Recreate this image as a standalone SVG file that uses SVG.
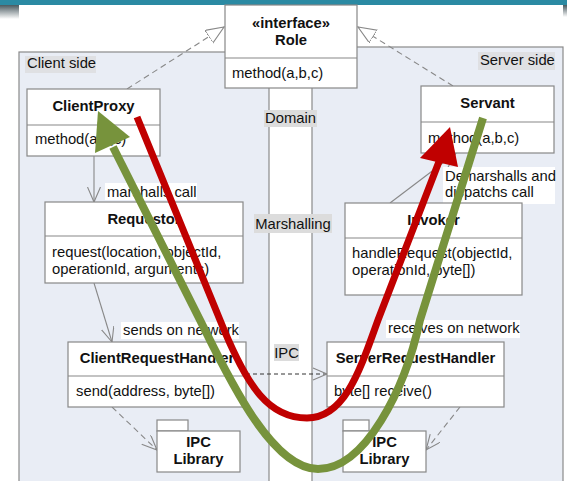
<svg xmlns="http://www.w3.org/2000/svg" width="567" height="481" viewBox="0 0 567 481">
  <style>
    text { font-family: "Liberation Sans", Arial, sans-serif; font-size: 14.8px; fill: #111; }
    .b { font-weight: bold; }
    .m { text-anchor: middle; }
    .box { fill: #fff; stroke: #888; stroke-width: 1.2; }
    .sep { stroke: #888; stroke-width: 1.2; }
    .panel { fill: #e9edf5; stroke: #8a8a8a; stroke-width: 1.2; }
    .tag { fill: #dcdcdc; }
    .lbl { fill: #fff; }
    .solid { fill: none; stroke: #888; stroke-width: 1.1; }
    .dash { fill: none; stroke: #888; stroke-width: 1.1; stroke-dasharray: 6 4; }
    .dashdark { fill: none; stroke: #333; stroke-width: 1; stroke-dasharray: 4 3; }
  </style>
  <defs>
    <marker id="hollow" markerUnits="userSpaceOnUse" markerWidth="20" markerHeight="16" refX="18" refY="7.5" orient="auto">
      <path d="M0,0 L18,7.5 L0,15 Z" fill="#fff" stroke="#888" stroke-width="1.1"/>
    </marker>
    <marker id="open" markerUnits="userSpaceOnUse" markerWidth="18" markerHeight="14" refX="15" refY="6.5" orient="auto">
      <path d="M0,0 L15,6.5 L0,13" fill="none" stroke="#888" stroke-width="1.1"/>
    </marker>
    <linearGradient id="shade" x1="0" y1="0" x2="0" y2="1">
      <stop offset="0" stop-color="#4a5a60"/>
      <stop offset="1" stop-color="#ffffff"/>
    </linearGradient>
  </defs>

  <!-- page background and header strip -->
  <rect x="0" y="0" width="567" height="481" fill="#fff"/>
  <rect x="0" y="5" width="19" height="14" fill="url(#shade)"/>
  <rect x="563" y="5" width="4" height="12" fill="url(#shade)"/>
  <rect x="0" y="0" width="567" height="5" fill="#2b8aa3"/>

  <!-- side panels -->
  <g id="client-side">
    <rect class="panel" x="19" y="52" width="250" height="440"/>
    <rect x="25" y="56" width="71" height="17" fill="#dfe0e3"/>
    <text x="27" y="68">Client side</text>
  </g>
  <g id="server-side">
    <rect class="panel" x="312" y="47" width="251" height="440"/>
    <rect x="478" y="52" width="77" height="18" fill="#dfe0e3"/>
    <text x="480" y="65">Server side</text>
  </g>

  <!-- layer tags in the middle column -->
  <g id="layers">
    <rect class="tag" x="264" y="110" width="53" height="17"/>
    <text x="290.5" y="123" class="m">Domain</text>
    <rect class="tag" x="254" y="214" width="78" height="19"/>
    <text x="293" y="229" class="m">Marshalling</text>
    <rect class="tag" x="274" y="344" width="25" height="17"/>
    <text x="286.5" y="358" class="m">IPC</text>
  </g>

  <!-- connectors -->
  <g id="connectors">
    <path class="dash" d="M127,89 L224,27" marker-end="url(#hollow)"/>
    <path class="dash" d="M453,86 L358,27" marker-end="url(#hollow)"/>
    <path class="solid" d="M94,156 L94,202" marker-end="url(#open)"/>
    <path class="solid" d="M94,283 L112,342" marker-end="url(#open)"/>
    <path class="solid" d="M390,203 L456,153" marker-end="url(#open)"/>
    <path class="dashdark" d="M246,374 L327,374"/>
    <path d="M313,368 L327,374 L313,380" fill="none" stroke="#888" stroke-width="1.1"/>
    <path class="dash" d="M112,407 L157,450" marker-end="url(#open)"/>
    <path class="dash" d="M460,407 L426,450" marker-end="url(#open)"/>

    <rect class="lbl" x="105" y="183" width="92" height="17"/>
    <text x="107" y="197">marshalls call</text>
    <rect class="lbl" x="121" y="322" width="118" height="17"/>
    <text x="123" y="335">sends on network</text>
    <rect class="lbl" x="386" y="320" width="134" height="18"/>
    <text x="388" y="333">receives on network</text>
    <rect class="lbl" x="443" y="167" width="112" height="37"/>
    <text x="445" y="181">Demarshalls and</text>
    <text x="445" y="197">dispatchs call</text>
  </g>

  <!-- nodes -->
  <g id="role">
    <rect class="box" x="225" y="5" width="132" height="83"/>
    <line class="sep" x1="225" y1="58" x2="357" y2="58"/>
    <text x="291" y="28" class="m b">«interface»</text>
    <text x="291" y="45" class="m b">Role</text>
    <text x="232" y="78">method(a,b,c)</text>
  </g>
  <g id="client-proxy">
    <rect class="box" x="27" y="89" width="133" height="67"/>
    <line class="sep" x1="27" y1="125" x2="160" y2="125"/>
    <text x="93.5" y="111" class="m b">ClientProxy</text>
    <text x="35" y="144">method(a,b,c)</text>
  </g>
  <g id="servant">
    <rect class="box" x="421" y="86" width="133" height="67"/>
    <line class="sep" x1="421" y1="122" x2="554" y2="122"/>
    <text x="487.5" y="108" class="m b">Servant</text>
    <text x="428" y="143">method(a,b,c)</text>
  </g>
  <g id="requestor">
    <rect class="box" x="45" y="202" width="198" height="81"/>
    <line class="sep" x1="45" y1="236" x2="243" y2="236"/>
    <text x="144" y="224" class="m b">Requestor</text>
    <text x="52" y="257">request(location, objectId,</text>
    <text x="52" y="274">operationId, arguments)</text>
  </g>
  <g id="invoker">
    <rect class="box" x="345" y="203" width="177" height="92"/>
    <line class="sep" x1="345" y1="238" x2="522" y2="238"/>
    <text x="433.5" y="225" class="m b">Invoker</text>
    <text x="352" y="258">handleRequest(objectId,</text>
    <text x="352" y="275">operationId, byte[])</text>
  </g>
  <g id="client-request-handler">
    <rect class="box" x="68" y="342" width="178" height="65"/>
    <line class="sep" x1="68" y1="376" x2="246" y2="376"/>
    <text x="157" y="363" class="m b">ClientRequestHandler</text>
    <text x="76" y="396">send(address, byte[])</text>
  </g>
  <g id="server-request-handler">
    <rect class="box" x="327" y="342" width="177" height="65"/>
    <line class="sep" x1="327" y1="376" x2="504" y2="376"/>
    <text x="415.5" y="363" class="m b">ServerRequestHandler</text>
    <text x="334" y="396">byte[] receive()</text>
  </g>
  <g id="ipc-library-client">
    <rect class="box" x="157" y="420" width="31" height="11"/>
    <rect class="box" x="157" y="431" width="83" height="41"/>
    <text x="198.5" y="447" class="m b">IPC</text>
    <text x="198.5" y="464" class="m b">Library</text>
  </g>
  <g id="ipc-library-server">
    <rect class="box" x="343" y="420" width="26" height="11"/>
    <rect class="box" x="343" y="431" width="83" height="41"/>
    <text x="384.5" y="447" class="m b">IPC</text>
    <text x="384.5" y="464" class="m b">Library</text>
  </g>

  <!-- call path (red) and return path (green) -->
  <g id="flow">
    <path d="M137,117 L220,320 C248,390 270,418 307,418 C345,418 360,370 378,320 L440,159" fill="none" stroke="#c00000" stroke-width="7"/>
    <polygon points="450,127 420,158 458,167" fill="#c00000"/>
    <path d="M483,118 L420,320 C405,390 365,469 318,469 C270,469 225,370 200,320 L113,147" fill="none" stroke="#77933c" stroke-width="8"/>
    <polygon points="98,111 130,137 95,153" fill="#77933c"/>
  </g>
</svg>
